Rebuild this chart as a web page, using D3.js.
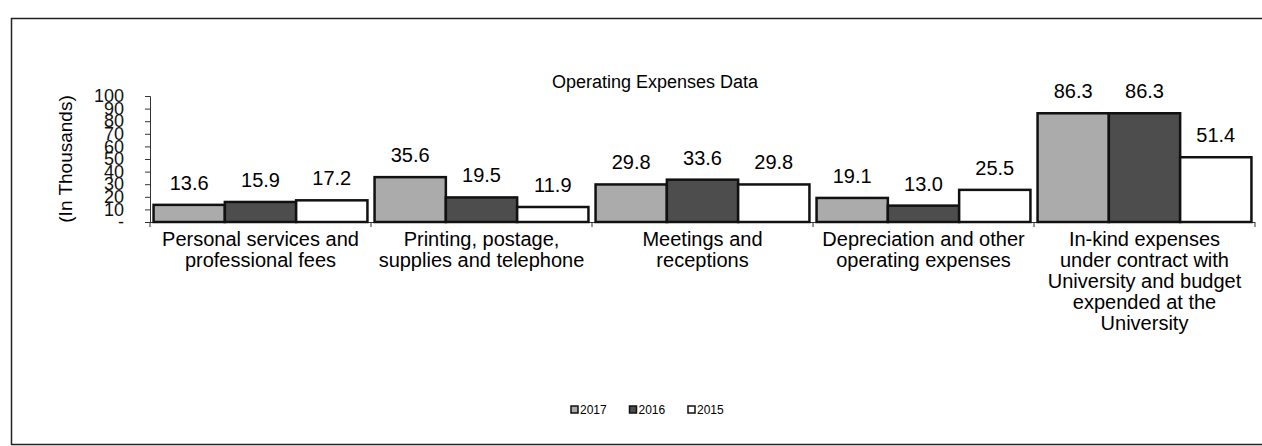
<!DOCTYPE html>
<html>
<head>
<meta charset="utf-8">
<script src="https://cdn.jsdelivr.net/npm/d3@7"></script>
<style>
  body { margin: 0; background: #fff; overflow: hidden; }
  svg { font-family: "Liberation Sans", Arial, sans-serif; display: block; }
</style>
</head>
<body>
<script>
var categories = [
	"Personal services and\nprofessional fees",
	"Printing, postage,\nsupplies and telephone",
	"Meetings and\nreceptions",
	"Depreciation and other\noperating expenses",
	"In-kind expenses\nunder contract with\nUniversity and budget\nexpended at the\nUniversity"
];
var years = ["2017", "2016", "2015"];
var values2017 = [13.6, 35.6, 29.8, 19.1, 86.3],
	values2016 = [15.9, 19.5, 33.6, 13.0, 86.3],
	values2015 = [17.2, 11.9, 29.8, 25.5, 51.4];
var yTicks = [0, 10, 20, 30, 40, 50, 60, 70, 80, 90, 100];

var series = [values2017, values2016, values2015];
var colors = ["#ababab", "#4d4d4d", "#ffffff"];

var W = 1262, H = 446;
var margin = {top: 96, left: 150, right: 7, bottom: 224},
	width = W - margin.left - margin.right,
	height = H - margin.top - margin.bottom;

var svg = d3.select('body')
	.append('svg')
	.attr('width', W)
	.attr('height', H);

// outer frame (right side runs off the page)
svg.append('rect')
	.attr('x', 11.5).attr('y', 18.5)
	.attr('width', 1400).attr('height', 426)
	.attr('fill', 'none')
	.attr('stroke', '#222')
	.attr('stroke-width', 1.5);

// title
svg.append('text')
	.attr('x', 655).attr('y', 88)
	.attr('text-anchor', 'middle')
	.attr('font-size', '18px')
	.text('Operating Expenses Data');

var main = svg.append('g')
	.attr('transform', 'translate(' + margin.left + ',' + margin.top + ')');

var x = d3.scaleBand()
	.domain(d3.range(categories.length))
	.range([0, width]);

var xInner = d3.scaleBand()
	.domain(years)
	.range([0, x.bandwidth()])
	.paddingOuter(0.05);

var y = d3.scaleLinear()
	.domain([0, 100])
	.range([height, 0]);

// y axis
var yAxis = d3.axisLeft(y)
	.tickValues(yTicks)
	.tickSize(5)
	.tickPadding(21)
	.tickFormat(function(d) { return d === 0 ? '-' : d; });

var gy = main.append('g').call(yAxis);
gy.select('.domain').attr('stroke', '#333');
gy.selectAll('.tick line').attr('stroke', '#333');
gy.selectAll('.tick text')
	.attr('font-size', '18px')
	.attr('font-family', '"Liberation Sans", Arial, sans-serif')
	.attr('fill', '#111');

// x axis with ticks at band boundaries
main.append('line')
	.attr('x1', 0).attr('x2', width)
	.attr('y1', height + 0.5).attr('y2', height + 0.5)
	.attr('stroke', '#333');
main.selectAll('.xtick')
	.data(d3.range(categories.length + 1))
	.enter().append('line')
	.attr('x1', function(d) { return d * x.step(); })
	.attr('x2', function(d) { return d * x.step(); })
	.attr('y1', height).attr('y2', height + 5)
	.attr('stroke', '#333');

// y axis title
svg.append('text')
	.attr('transform', 'translate(72,' + (margin.top + height / 2) + ') rotate(-90)')
	.attr('text-anchor', 'middle')
	.attr('font-size', '19px')
	.text('(In Thousands)');

// bars
var groups = main.selectAll('.cat')
	.data(categories)
	.enter().append('g')
	.attr('transform', function(d, i) { return 'translate(' + x(i) + ',0)'; });

groups.selectAll('rect')
	.data(function(d, i) { return series.map(function(s, k) { return {k: k, v: s[i]}; }); })
	.enter().append('rect')
	.attr('x', function(d) { return xInner(years[d.k]); })
	.attr('y', function(d) { return y(d.v); })
	.attr('width', xInner.bandwidth())
	.attr('height', function(d) { return height - y(d.v); })
	.attr('fill', function(d) { return colors[d.k]; })
	.attr('stroke', '#111')
	.attr('stroke-width', 2.5);

// value labels
groups.selectAll('.val')
	.data(function(d, i) { return series.map(function(s, k) { return {k: k, v: s[i]}; }); })
	.enter().append('text')
	.attr('x', function(d) { return xInner(years[d.k]) + xInner.bandwidth() / 2; })
	.attr('y', function(d) { return y(d.v) - 15; })
	.attr('text-anchor', 'middle')
	.attr('font-size', '20px')
	.text(function(d) { return d.v.toFixed(1); });

// category labels
groups.append('text')
	.attr('text-anchor', 'middle')
	.attr('font-size', '20px')
	.selectAll('tspan')
	.data(function(d) { return d.split('\n'); })
	.enter().append('tspan')
	.attr('x', x.bandwidth() / 2)
	.attr('y', function(d, j) { return height + 24 + j * 21; })
	.text(function(d) { return d; });

// legend
var legend = svg.append('g')
	.attr('transform', 'translate(571,406)');
var li = legend.selectAll('g')
	.data(years)
	.enter().append('g')
	.attr('transform', function(d, i) { return 'translate(' + (i * 58.5) + ',0)'; });
li.append('rect')
	.attr('width', 7).attr('height', 7)
	.attr('fill', function(d, i) { return colors[i]; })
	.attr('stroke', '#111')
	.attr('stroke-width', 1.5);
li.append('text')
	.attr('x', 9).attr('y', 8)
	.attr('font-size', '12px')
	.text(function(d) { return d; });
</script>
</body>
</html>
